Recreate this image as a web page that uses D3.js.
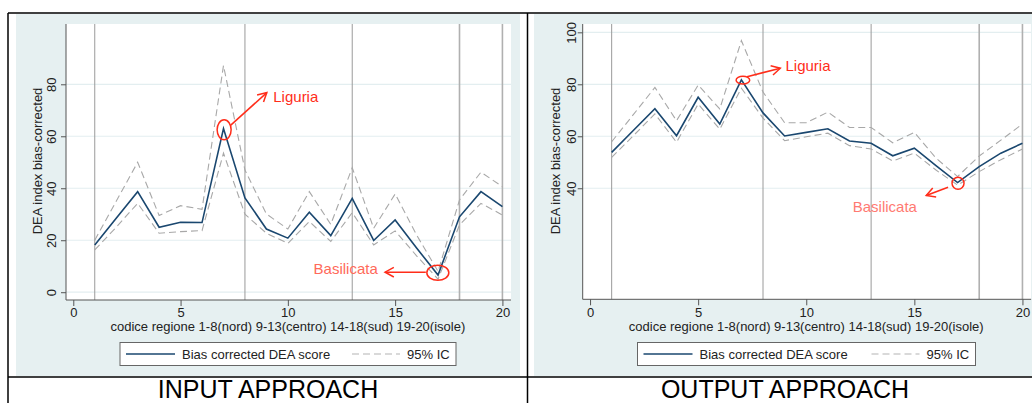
<!DOCTYPE html>
<html>
<head>
<meta charset="utf-8">
<script src="https://cdn.jsdelivr.net/npm/d3@7"></script>
<style>
  html, body { margin: 0; padding: 0; background: #fff; }
  svg { display: block; font-family: "Liberation Sans", Arial, sans-serif; }
</style>
</head>
<body>
<svg id="chart" width="1032" height="403"></svg>
<script>
// ---------- data ----------
const regions = [1, 2, 3, 4, 5, 6, 7, 8, 9, 10, 11, 12, 13, 14, 15, 16, 17, 18, 19, 20];

const inputScore = [18.2, 28.5, 38.7, 25.0, 26.9, 26.8, 63.0, 36.3, 24.3, 20.8, 30.8, 21.8, 36.1, 19.9, 27.8, 17.0, 6.6, 29.0, 38.7, 32.9];
const inputUpper = [20.0, 35.0, 50.0, 29.5, 33.3, 31.9, 87.2, 47.0, 30.1, 24.3, 38.7, 26.1, 47.9, 24.6, 37.8, 22.0, 8.0, 35.5, 46.2, 40.6];
const inputLower = [16.3, 25.0, 34.2, 22.7, 23.3, 23.7, 53.5, 30.0, 22.7, 18.8, 27.2, 19.5, 30.6, 18.2, 23.6, 14.0, 5.0, 25.9, 34.2, 29.7];

const outputScore = [53.8, 62.2, 70.6, 60.2, 75.0, 64.7, 81.7, 69.0, 60.1, 61.5, 62.9, 58.2, 57.3, 52.5, 55.4, 48.7, 42.2, 48.3, 53.5, 57.3];
const outputUpper = [57.9, 68.3, 78.8, 66.0, 79.7, 70.5, 96.8, 77.0, 65.2, 65.2, 69.3, 63.4, 63.4, 57.5, 61.5, 51.6, 44.5, 52.4, 58.5, 64.7];
const outputLower = [51.9, 60.2, 68.6, 57.7, 72.4, 62.7, 78.5, 67.0, 58.3, 59.8, 61.2, 56.4, 55.1, 50.5, 53.5, 47.0, 41.2, 46.4, 51.0, 55.1];

const xTicks = [0, 5, 10, 15, 20];
const inputYTicks = [0, 20, 40, 60, 80];
const outputYTicks = [40, 60, 80, 100];
const regionLines = [1, 8, 13, 18, 20];

const xTitle = "codice regione 1-8(nord) 9-13(centro) 14-18(sud) 19-20(isole)";
const yTitle = "DEA index bias-corrected";
const legendLabels = ["Bias corrected DEA score", "95% IC"];
const panelTitles = ["INPUT APPROACH", "OUTPUT APPROACH"];

// annotations (data coordinates)
const inputNotes = [
  { label: "Liguria", cx: 7.03, cy: 62.5, rx: 7, ry: 10, from: [7.34, 64.3], to: [9.02, 76.8], tx: 9.32, ty: 75.2, anchor: "start", color: "#ff2d1a" },
  { label: "Basilicata", cx: 16.99, cy: 7.5, rx: 11, ry: 7.5, from: [16.43, 7.7], to: [14.53, 7.7], tx: 14.19, ty: 9.0, anchor: "end", color: "#ff6a5a" }
];
const outputNotes = [
  { label: "Liguria", cx: 7.07, cy: 81.6, rx: 6.8, ry: 3.8, from: [7.26, 82.9], to: [8.80, 86.2], tx: 9.04, ty: 87.4, anchor: "start", color: "#ff2d1a" },
  { label: "Basilicata", cx: 17.02, cy: 41.9, rx: 6, ry: 6, from: [16.56, 40.4], to: [15.55, 37.2], tx: 15.12, ty: 32.9, anchor: "end", color: "#ff7a72" }
];

// ---------- drawing ----------
const svg = d3.select("#chart");
const RED = "#ff2d1a";

// panel backgrounds
svg.append("rect").attr("x", 16).attr("y", 14).attr("width", 504).attr("height", 362).attr("fill", "#e6f0f1");
svg.append("rect").attr("x", 534).attr("y", 14).attr("width", 498).attr("height", 362).attr("fill", "#e6f0f1");

function drawPanel(cfg) {
  const g = svg.append("g");
  const x = d3.scaleLinear().domain([-0.34, 20.4]).range([cfg.left, cfg.right]);
  const y = d3.scaleLinear().domain([-3, 103.2]).range([300, 24]);
  const top = 24, bottom = cfg.bottom;

  // plot region
  g.append("rect").attr("x", cfg.left).attr("y", top)
    .attr("width", cfg.right - cfg.left).attr("height", bottom - top).attr("fill", "#fff");

  // horizontal grid
  g.selectAll(".grid").data(cfg.yTicks).enter().append("line")
    .attr("x1", cfg.left).attr("x2", cfg.right)
    .attr("y1", d => y(d)).attr("y2", d => y(d))
    .attr("stroke", "#e3eef0").attr("stroke-width", 1.2);

  // region separators
  g.selectAll(".xl").data(regionLines).enter().append("line")
    .attr("x1", d => x(d)).attr("x2", d => x(d))
    .attr("y1", top).attr("y2", bottom)
    .attr("stroke", d => d >= 18 ? "#b0b0b0" : "#9a9a9a")
    .attr("stroke-width", d => d >= 18 ? 1.6 : 1);

  // CI lines
  const line = d3.line().x((d, i) => x(regions[i])).y(d => y(d));
  [cfg.upper, cfg.lower].forEach(arr => {
    g.append("path").datum(arr).attr("d", line)
      .attr("fill", "none").attr("stroke", "#a8a8a8").attr("stroke-width", 1.1)
      .attr("stroke-dasharray", "7,4");
  });
  g.append("path").datum(cfg.score).attr("d", line)
    .attr("fill", "none").attr("stroke", "#1a476f").attr("stroke-width", 1.6)
    .attr("stroke-linejoin", "miter");

  // axes
  const yAxis = g.append("g").attr("transform", `translate(${cfg.left},0)`)
    .call(d3.axisLeft(y).tickValues(cfg.yTicks).tickSize(5).tickFormat(d3.format("d")));
  yAxis.select(".domain").attr("d", `M0,${top}V${bottom}`).attr("stroke", "#555");
  yAxis.selectAll(".tick line").attr("stroke", "#555");
  yAxis.selectAll(".tick text")
    .attr("font-size", 13).attr("fill", "#222")
    .attr("text-anchor", "middle")
    .attr("x", 0).attr("dy", 0)
    .attr("transform", `translate(${-cfg.yLabelOff},0) rotate(-90)`)
    .attr("y", 0).attr("dominant-baseline", "central");

  const xAxis = g.append("g").attr("transform", `translate(0,${bottom})`)
    .call(d3.axisBottom(x).tickValues(xTicks).tickSize(6).tickFormat(d3.format("d")));
  xAxis.select(".domain").attr("d", `M${cfg.left},0H${cfg.right}`).attr("stroke", "#555");
  xAxis.selectAll(".tick line").attr("stroke", "#555");
  xAxis.selectAll(".tick text").attr("font-size", 13).attr("fill", "#222").attr("y", 8).attr("dy", "0.71em");

  // axis titles
  g.append("text").attr("x", (x(0) + x(20)) / 2).attr("y", 331)
    .attr("text-anchor", "middle").attr("font-size", 13).attr("fill", "#222").text(xTitle);
  g.append("text").attr("transform", `translate(${cfg.yTitleX},161) rotate(-90)`)
    .attr("text-anchor", "middle").attr("dominant-baseline", "central")
    .attr("font-size", 13).attr("fill", "#222").text(yTitle);

  // legend
  const lg = g.append("g");
  lg.append("rect").attr("x", cfg.legX).attr("y", 342.5).attr("width", cfg.legW).attr("height", 23)
    .attr("fill", "#fff").attr("stroke", "#666").attr("stroke-width", 1);
  lg.append("line").attr("x1", cfg.legX + 6).attr("x2", cfg.legX + 55).attr("y1", 354).attr("y2", 354)
    .attr("stroke", "#1a476f").attr("stroke-width", 1.6);
  lg.append("text").attr("x", cfg.legX + 62).attr("y", 358.5).attr("font-size", 13).attr("fill", "#222").text(legendLabels[0]);
  lg.append("line").attr("x1", cfg.legX + cfg.legW - 104).attr("x2", cfg.legX + cfg.legW - 56).attr("y1", 354).attr("y2", 354)
    .attr("stroke", "#b4b4b4").attr("stroke-width", 1.1).attr("stroke-dasharray", "7,4");
  lg.append("text").attr("x", cfg.legX + cfg.legW - 49).attr("y", 358.5).attr("font-size", 13).attr("fill", "#222").text(legendLabels[1]);

  // annotations
  cfg.notes.forEach(n => {
    g.append("ellipse").attr("cx", x(n.cx)).attr("cy", y(n.cy)).attr("rx", n.rx).attr("ry", n.ry)
      .attr("fill", "none").attr("stroke", RED).attr("stroke-width", 1.5);
    const x1 = x(n.from[0]), y1 = y(n.from[1]), x2 = x(n.to[0]), y2 = y(n.to[1]);
    g.append("line").attr("x1", x1).attr("y1", y1).attr("x2", x2).attr("y2", y2)
      .attr("stroke", RED).attr("stroke-width", 1.5);
    const ang = Math.atan2(y2 - y1, x2 - x1), L = 10, spread = 0.5;
    const p1 = [x2 - L * Math.cos(ang - spread), y2 - L * Math.sin(ang - spread)];
    const p2 = [x2 - L * Math.cos(ang + spread), y2 - L * Math.sin(ang + spread)];
    g.append("path").attr("d", `M${p1}L${x2},${y2}L${p2}`)
      .attr("fill", "none").attr("stroke", RED).attr("stroke-width", 1.5);
    g.append("text").attr("x", x(n.tx)).attr("y", y(n.ty)).attr("dominant-baseline", "central")
      .attr("text-anchor", n.anchor).attr("font-size", 15).attr("fill", n.color).text(n.label);
  });
}

drawPanel({ left: 66, right: 511, bottom: 300, yTicks: inputYTicks, yLabelOff: 14.5, yTitleX: 37,
  score: inputScore, upper: inputUpper, lower: inputLower, legX: 120, legW: 336, notes: inputNotes });
drawPanel({ left: 582.7, right: 1031.1, bottom: 299.3, yTicks: outputYTicks, yLabelOff: 11.5, yTitleX: 555,
  score: outputScore, upper: outputUpper, lower: outputLower, legX: 637.5, legW: 338, notes: outputNotes });

// frame lines
const frame = svg.append("g").attr("stroke", "#000").attr("stroke-width", 1.5);
frame.append("line").attr("x1", 8).attr("x2", 1032).attr("y1", 13).attr("y2", 13);
frame.append("line").attr("x1", 8).attr("x2", 8).attr("y1", 13).attr("y2", 403);
frame.append("line").attr("x1", 527.5).attr("x2", 527.5).attr("y1", 13).attr("y2", 403);
frame.append("line").attr("x1", 8).attr("x2", 1032).attr("y1", 377).attr("y2", 377);

// panel titles
svg.append("text").attr("x", 268).attr("y", 397.5).attr("text-anchor", "middle")
  .attr("font-size", 25).attr("fill", "#000").text(panelTitles[0]);
svg.append("text").attr("x", 785).attr("y", 397.5).attr("text-anchor", "middle")
  .attr("font-size", 25).attr("fill", "#000").text(panelTitles[1]);
</script>
</body>
</html>
